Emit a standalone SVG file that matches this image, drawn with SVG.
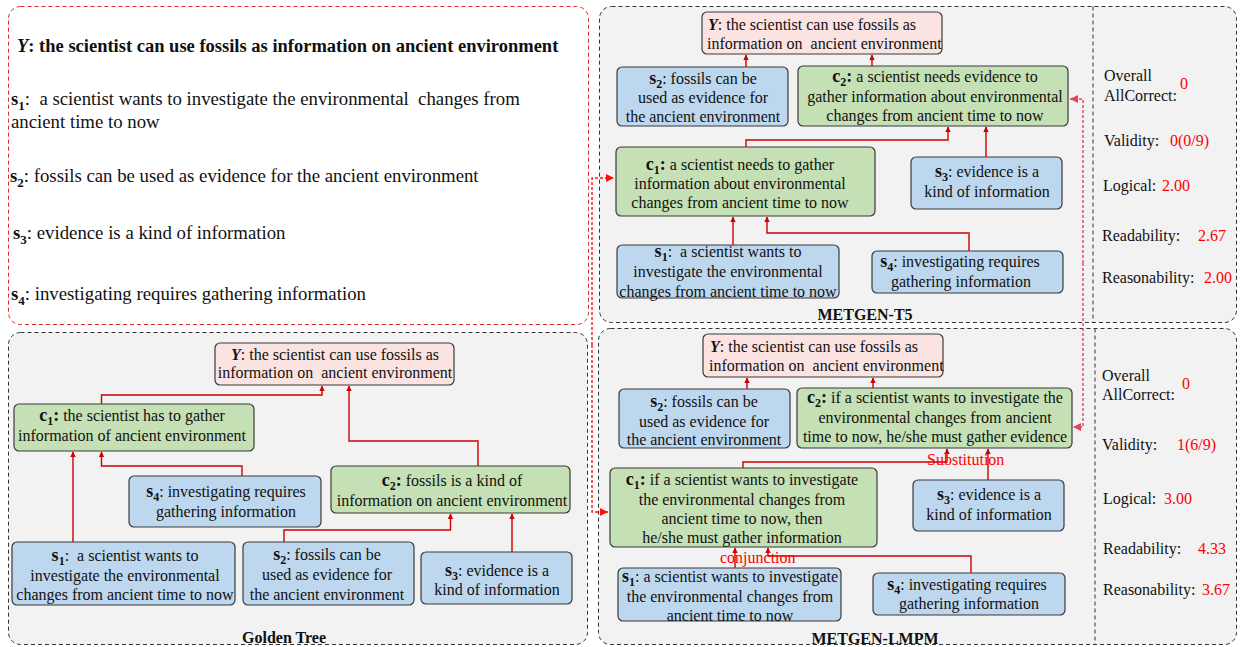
<svg xmlns="http://www.w3.org/2000/svg" width="1240" height="647" viewBox="0 0 1240 647">
<style>
.t{font-family:"Liberation Serif","Times New Roman",serif;font-size:16px;fill:#111}
.m{text-anchor:middle}
.b{font-weight:bold}
.L{font-weight:bold;font-size:18px}
.big{font-size:18.8px}
.red{fill:#ff0000}
.nb{fill:#bdd7ee;stroke:#3a3a3a;stroke-width:1.2}
.ng{fill:#c5e0b4;stroke:#3a3a3a;stroke-width:1.2}
.np{fill:#fbe3e2;stroke:#3a3a3a;stroke-width:1.2}
.panel{fill:#f2f2f2;stroke:#333;stroke-width:1;stroke-dasharray:4 3}
.e{fill:none;stroke:#cc0000;stroke-width:1.4;marker-end:url(#ah)}
.dl{fill:none;stroke:#ff1010;stroke-width:1.4;stroke-dasharray:3 2;marker-end:url(#adl)}
.dr{fill:none;stroke:#e8405a;stroke-width:1.4;stroke-dasharray:3 2;marker-end:url(#adr)}
</style>
<defs>
<marker id="ah" markerUnits="userSpaceOnUse" markerWidth="7" markerHeight="7" refX="5" refY="3" orient="auto"><path d="M0,0.3 L5.5,3 L0,5.7 z" fill="#cc0000"/></marker>
<marker id="adl" markerUnits="userSpaceOnUse" markerWidth="10" markerHeight="10" refX="8" refY="4" orient="auto"><path d="M0,0 L8,4 L0,8 z" fill="#ff1010"/></marker>
<marker id="adr" markerUnits="userSpaceOnUse" markerWidth="10" markerHeight="10" refX="8" refY="4" orient="auto"><path d="M0,0 L8,4 L0,8 z" fill="#e8405a"/></marker>
</defs>
<rect width="1240" height="647" fill="#fff"/>

<!-- Panels -->
<g id="panel-input">
<rect x="8.5" y="6.5" width="580" height="318" rx="12" fill="#fff" stroke="#e02828" stroke-width="1" stroke-dasharray="4 3"/>
<text class="t b" font-size="18.5" x="17" y="52" style="font-size:18.5px"><tspan font-style="italic">Y</tspan>: the scientist can use fossils as information on ancient environment</text>
<text class="t big" x="11" y="105" xml:space="preserve"><tspan class="b">s<tspan font-size="13" dy="5">1</tspan></tspan><tspan dy="-5">:  a scientist wants to investigate the environmental  changes from</tspan></text>
<text class="t big" x="11" y="128">ancient time to now</text>
<text class="t big" x="10" y="182"><tspan class="b">s<tspan font-size="13" dy="5">2</tspan></tspan><tspan dy="-5">: fossils can be used as evidence for the ancient environment</tspan></text>
<text class="t big" x="13" y="239"><tspan class="b">s<tspan font-size="13" dy="5">3</tspan></tspan><tspan dy="-5">: evidence is a kind of information</tspan></text>
<text class="t big" x="11" y="300"><tspan class="b">s<tspan font-size="13" dy="5">4</tspan></tspan><tspan dy="-5">: investigating requires gathering information</tspan></text>
</g>

<g id="panel-golden">
<rect class="panel" x="8.5" y="332.5" width="579" height="312" rx="12"/>
<text class="t b m" x="284" y="643">Golden Tree</text>
</g>

<g id="panel-t5">
<rect class="panel" x="599.5" y="6.5" width="637" height="316" rx="12"/>
<line x1="1093" y1="6.5" x2="1093" y2="322.5" stroke="#333" stroke-dasharray="4 3"/>
<text class="t b m" x="865" y="320">METGEN-T5</text>
</g>

<g id="panel-lmpm">
<rect class="panel" x="598.5" y="328.5" width="638" height="316" rx="12"/>
<line x1="1095" y1="328.5" x2="1095" y2="644.5" stroke="#333" stroke-dasharray="4 3"/>
<text class="t b m" x="875" y="644">METGEN-LMPM</text>
</g>

<!-- Metrics -->
<g id="metrics-t5">
<text class="t" x="1104" y="81">Overall</text>
<text class="t" x="1104" y="101">AllCorrect:</text>
<text class="t red" x="1180" y="89">0</text>
<text class="t" x="1104" y="146">Validity:</text>
<text class="t red" x="1170" y="146">0(0/9)</text>
<text class="t" x="1103" y="191">Logical:</text>
<text class="t red" x="1162" y="191">2.00</text>
<text class="t" x="1102" y="241">Readability:</text>
<text class="t red" x="1198" y="241">2.67</text>
<text class="t" x="1102" y="283">Reasonability:</text>
<text class="t red" x="1204" y="283">2.00</text>
</g>
<g id="metrics-lmpm">
<text class="t" x="1102" y="381">Overall</text>
<text class="t" x="1102" y="400">AllCorrect:</text>
<text class="t red" x="1182" y="389">0</text>
<text class="t" x="1102" y="450">Validity:</text>
<text class="t red" x="1177" y="450">1(6/9)</text>
<text class="t" x="1103" y="504">Logical:</text>
<text class="t red" x="1164" y="504">3.00</text>
<text class="t" x="1103" y="554">Readability:</text>
<text class="t red" x="1198" y="554">4.33</text>
<text class="t" x="1103" y="595">Reasonability:</text>
<text class="t red" x="1202" y="595">3.67</text>
</g>

<!-- Golden tree nodes -->
<g id="g-Y"><rect class="np" x="215" y="343" width="239" height="42" rx="5"/>
<text class="t m" xml:space="preserve"><tspan x="335" y="360"><tspan class="b" font-style="italic">Y</tspan>: the scientist can use fossils as</tspan><tspan x="335" y="378">information on  ancient environment</tspan></text></g>
<g id="g-c1"><rect class="ng" x="14" y="404" width="240" height="47" rx="5"/>
<text class="t m"><tspan x="132" y="421"><tspan class="L">c<tspan font-size="12" dy="4">1</tspan><tspan dy="-4">:</tspan></tspan> the scientist has to gather</tspan><tspan x="132" y="441">information of ancient environment</tspan></text></g>
<g id="g-s4"><rect class="nb" x="129" y="476" width="192" height="51" rx="5"/>
<text class="t m"><tspan x="226" y="497"><tspan class="L">s<tspan font-size="12" dy="4">4</tspan></tspan><tspan dy="-4">: investigating requires</tspan></tspan><tspan x="226" y="517">gathering information</tspan></text></g>
<g id="g-c2"><rect class="ng" x="331" y="466" width="239" height="47" rx="5"/>
<text class="t m"><tspan x="452" y="486"><tspan class="L">c<tspan font-size="12" dy="4">2</tspan><tspan dy="-4">:</tspan></tspan> fossils is a kind of</tspan><tspan x="452" y="506">information on ancient environment</tspan></text></g>
<g id="g-s1"><rect class="nb" x="12" y="542" width="223" height="63" rx="5"/>
<text class="t m" xml:space="preserve"><tspan x="125" y="561"><tspan class="L">s<tspan font-size="12" dy="4">1</tspan></tspan><tspan dy="-4">:  a scientist wants to</tspan></tspan><tspan x="125" y="581">investigate the environmental</tspan><tspan x="125" y="600">changes from ancient time to now</tspan></text></g>
<g id="g-s2"><rect class="nb" x="243" y="542" width="171" height="63" rx="5"/>
<text class="t m"><tspan x="327" y="560"><tspan class="L">s<tspan font-size="12" dy="4">2</tspan></tspan><tspan dy="-4">: fossils can be</tspan></tspan><tspan x="327" y="580">used as evidence for</tspan><tspan x="327" y="600">the ancient environment</tspan></text></g>
<g id="g-s3"><rect class="nb" x="421" y="552" width="151" height="52" rx="5"/>
<text class="t m"><tspan x="497" y="576"><tspan class="L">s<tspan font-size="12" dy="4">3</tspan></tspan><tspan dy="-4">: evidence is a</tspan></tspan><tspan x="497" y="595">kind of information</tspan></text></g>

<!-- T5 nodes -->
<g id="t5-Y"><rect class="np" x="702" y="12" width="240" height="42" rx="5"/>
<text class="t" xml:space="preserve"><tspan x="708" y="30"><tspan class="b" font-style="italic">Y</tspan>: the scientist can use fossils as</tspan><tspan x="707" y="49">information on  ancient environment</tspan></text></g>
<g id="t5-s2"><rect class="nb" x="617" y="67" width="171" height="59" rx="5"/>
<text class="t m"><tspan x="703" y="84"><tspan class="L">s<tspan font-size="12" dy="4">2</tspan></tspan><tspan dy="-4">: fossils can be</tspan></tspan><tspan x="703" y="103">used as evidence for</tspan><tspan x="703" y="122">the ancient environment</tspan></text></g>
<g id="t5-c2"><rect class="ng" x="798" y="66" width="270" height="60" rx="5"/>
<text class="t m"><tspan x="935" y="82"><tspan class="L">c<tspan font-size="12" dy="4">2</tspan><tspan dy="-4">:</tspan></tspan> a scientist needs evidence to</tspan><tspan x="935" y="102">gather information about environmental</tspan><tspan x="935" y="121">changes from ancient time to now</tspan></text></g>
<g id="t5-c1"><rect class="ng" x="616" y="147" width="259" height="69" rx="5"/>
<text class="t m"><tspan x="740" y="170"><tspan class="L">c<tspan font-size="12" dy="4">1</tspan><tspan dy="-4">:</tspan></tspan> a scientist needs to gather</tspan><tspan x="740" y="189">information about environmental</tspan><tspan x="740" y="208">changes from ancient time to now</tspan></text></g>
<g id="t5-s3"><rect class="nb" x="911" y="157" width="151" height="52" rx="5"/>
<text class="t m"><tspan x="987" y="177"><tspan class="L">s<tspan font-size="12" dy="4">3</tspan></tspan><tspan dy="-4">: evidence is a</tspan></tspan><tspan x="987" y="197">kind of information</tspan></text></g>
<g id="t5-s1"><rect class="nb" x="617" y="245" width="222" height="53" rx="5"/>
<text class="t m" xml:space="preserve"><tspan x="728" y="257"><tspan class="L">s<tspan font-size="12" dy="4">1</tspan></tspan><tspan dy="-4">:  a scientist wants to</tspan></tspan><tspan x="728" y="277">investigate the environmental</tspan><tspan x="728" y="297">changes from ancient time to now</tspan></text></g>
<g id="t5-s4"><rect class="nb" x="872" y="251" width="191" height="42" rx="5"/>
<text class="t m"><tspan x="960" y="267"><tspan class="L">s<tspan font-size="12" dy="4">4</tspan></tspan><tspan dy="-4">: investigating requires</tspan></tspan><tspan x="961" y="287">gathering information</tspan></text></g>

<!-- LMPM nodes -->
<g id="lm-Y"><rect class="np" x="703" y="334" width="240" height="43" rx="5"/>
<text class="t" xml:space="preserve"><tspan x="710" y="352"><tspan class="b" font-style="italic">Y</tspan>: the scientist can use fossils as</tspan><tspan x="709" y="371">information on  ancient environment</tspan></text></g>
<g id="lm-s2"><rect class="nb" x="619" y="389" width="171" height="59" rx="5"/>
<text class="t m"><tspan x="704" y="407"><tspan class="L">s<tspan font-size="12" dy="4">2</tspan></tspan><tspan dy="-4">: fossils can be</tspan></tspan><tspan x="704" y="427">used as evidence for</tspan><tspan x="704" y="445">the ancient environment</tspan></text></g>
<g id="lm-c2"><rect class="ng" x="797" y="388" width="275" height="60" rx="5"/>
<text class="t m"><tspan x="935" y="403"><tspan class="L">c<tspan font-size="12" dy="4">2</tspan><tspan dy="-4">:</tspan></tspan> if a scientist wants to investigate the</tspan><tspan x="935" y="423">environmental changes from ancient</tspan><tspan x="935" y="442">time to now, he/she must gather evidence</tspan></text></g>
<g id="lm-c1"><rect class="ng" x="610" y="468" width="267" height="79" rx="5"/>
<text class="t m"><tspan x="742" y="485"><tspan class="L">c<tspan font-size="12" dy="4">1</tspan><tspan dy="-4">:</tspan></tspan> if a scientist wants to investigate</tspan><tspan x="742" y="505">the environmental changes from</tspan><tspan x="742" y="524">ancient time to now, then</tspan><tspan x="742" y="543">he/she must gather information</tspan></text></g>
<g id="lm-s3"><rect class="nb" x="913" y="480" width="151" height="51" rx="5"/>
<text class="t m"><tspan x="989" y="500"><tspan class="L">s<tspan font-size="12" dy="4">3</tspan></tspan><tspan dy="-4">: evidence is a</tspan></tspan><tspan x="989" y="520">kind of information</tspan></text></g>
<g id="lm-s1"><rect class="nb" x="618" y="568" width="223" height="53" rx="5"/>
<text class="t m"><tspan x="730" y="582"><tspan class="L">s<tspan font-size="12" dy="4">1</tspan></tspan><tspan dy="-4">: a scientist wants to investigate</tspan></tspan><tspan x="730" y="602">the environmental changes from</tspan><tspan x="730" y="621">ancient time to now</tspan></text></g>
<g id="lm-s4"><rect class="nb" x="873" y="573" width="192" height="42" rx="5"/>
<text class="t m"><tspan x="967" y="590"><tspan class="L">s<tspan font-size="12" dy="4">4</tspan></tspan><tspan dy="-4">: investigating requires</tspan></tspan><tspan x="969" y="609">gathering information</tspan></text></g>

<!-- Connectors -->
<g id="connectors">
<path class="e" d="M101.5,404 V395 H322 V386"/>
<path class="e" d="M478,466 V441 H349 V386"/>
<path class="e" d="M73,542 V452"/>
<path class="e" d="M242,476 V466 H101.5 V452"/>
<path class="e" d="M284,542 V530 H450.5 V514"/>
<path class="e" d="M512,552 V514"/>

<path class="e" d="M746,67 V55"/>
<path class="e" d="M872,66 V55"/>
<path class="e" d="M746,147 V140 H948 V127"/>
<path class="e" d="M986,157 V127"/>
<path class="e" d="M733,245 V217"/>
<path class="e" d="M969,251 V233 H767 V217"/>

<path class="e" d="M747,389 V378"/>
<path class="e" d="M873,388 V378"/>
<path class="e" d="M743,468 V462 H947 V449"/>
<path class="e" d="M988,480 V449"/>
<path class="e" d="M735,568 V548"/>
<path class="e" d="M971,573 V556 H768 V548"/>

<path class="dl" d="M592,345 V178 H614"/>
<path class="dl" d="M592,345 V512 H608"/>
<path class="dr" d="M1083,263 V99 H1070"/>
<path class="dr" d="M1083,263 V427 H1073"/>

<text class="t red" x="927" y="465">Substitution</text>
<text class="t red" x="720" y="563">conjunction</text>
</g>
</svg>
